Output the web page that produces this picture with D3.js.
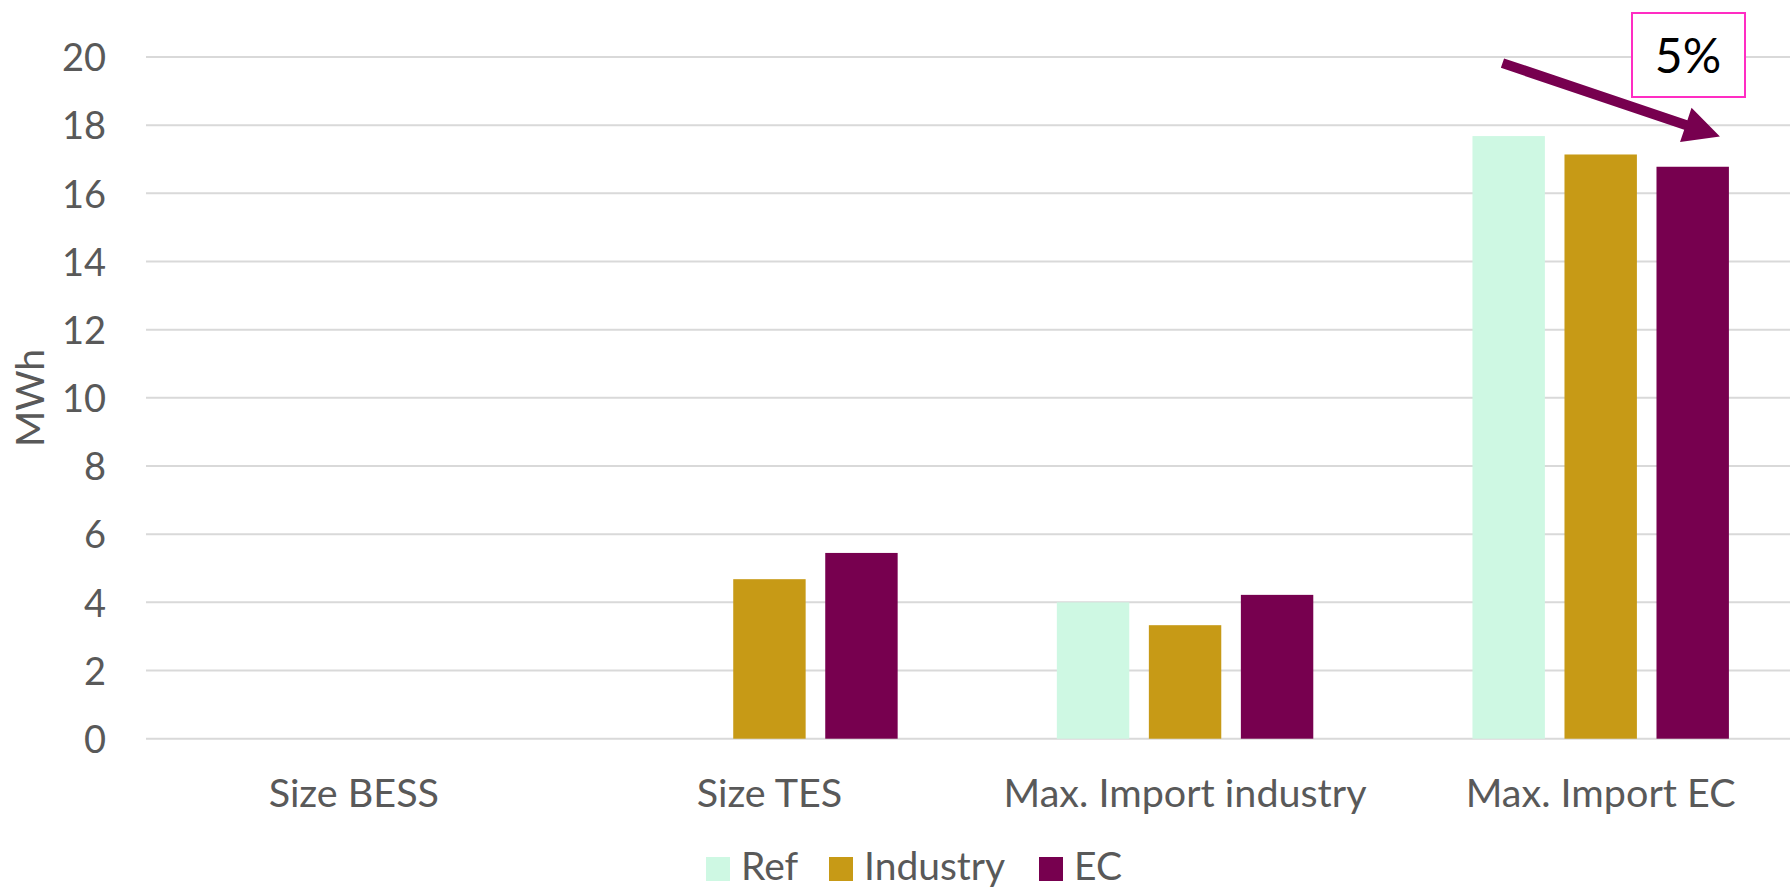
<!DOCTYPE html>
<html>
<head>
<meta charset="utf-8">
<script src="https://cdn.jsdelivr.net/npm/d3@7"></script>
<style>
  body { margin: 0; background: #fff; }
  svg text { font-family: Lato, "Open Sans", sans-serif; fill: #595959; }
</style>
</head>
<body>
<div id="viz"></div>
<script>
var categories = ['Size BESS', 'Size TES', 'Max. Import industry', 'Max. Import EC'];
var seriesNames = ['Ref', 'Industry', 'EC'];
var refValues = [0, 0, 4.0, 17.68];
var industryValues = [0, 4.68, 3.33, 17.14];
var ecValues = [0, 5.45, 4.22, 16.78];
var yTicks = [0, 2, 4, 6, 8, 10, 12, 14, 16, 18, 20];
var annotationText = '5%';

var colors = { 'Ref': '#CEF8E3', 'Industry': '#C79A16', 'EC': '#77004F' };

var width = 1790;
var height = 888;

var svg = d3.select('#viz')
    .append('svg')
    .attr('width', width)
    .attr('height', height);

var x0 = d3.scaleBand()
    .domain(categories)
    .range([146, 1808.5])
    .paddingInner(0.383)
    .paddingOuter(0.1915);

var x1 = d3.scaleBand()
    .domain(seriesNames)
    .range([0, x0.bandwidth()])
    .paddingInner(0.213);

var y = d3.scaleLinear()
    .domain([0, 20])
    .range([738.7, 57]);

// gridlines
svg.append('g')
    .selectAll('line')
    .data(yTicks)
    .enter().append('line')
    .attr('x1', 146)
    .attr('x2', width)
    .attr('y1', function (d) { return y(d); })
    .attr('y2', function (d) { return y(d); })
    .attr('stroke', '#D9D9D9')
    .attr('stroke-width', 2);

// y axis labels
var yAxis = svg.append('g')
    .attr('transform', 'translate(106,0)')
    .call(d3.axisLeft(y).tickValues(yTicks).tickSize(0).tickPadding(0));
yAxis.select('.domain').remove();
yAxis.selectAll('text')
    .attr('font-size', 38)
    .attr('font-family', 'Lato, sans-serif')
    .attr('fill', '#595959')
    .attr('dy', '0.36em');

svg.append('text')
    .attr('transform', 'translate(44,398) rotate(-90)')
    .attr('text-anchor', 'middle')
    .attr('font-size', 39)
    .text('MWh');

// bars
var rows = categories.map(function (c, i) {
    return { cat: c, values: [refValues[i], industryValues[i], ecValues[i]] };
});

var groups = svg.selectAll('g.group')
    .data(rows)
    .enter().append('g')
    .attr('class', 'group')
    .attr('transform', function (d) { return 'translate(' + x0(d.cat) + ',0)'; });

groups.selectAll('rect')
    .data(function (d) {
        return seriesNames.map(function (s, j) { return { name: s, value: d.values[j] }; });
    })
    .enter().append('rect')
    .filter(function (d) { return d.value > 0; })
    .attr('x', function (d) { return x1(d.name); })
    .attr('width', x1.bandwidth())
    .attr('y', function (d) { return y(d.value); })
    .attr('height', function (d) { return y(0) - y(d.value); })
    .attr('fill', function (d) { return colors[d.name]; });

// category labels
var xAxis = svg.append('g')
    .attr('transform', 'translate(0,' + y(0) + ')')
    .call(d3.axisBottom(x0).tickSize(0).tickPadding(0));
xAxis.select('.domain').remove();
xAxis.selectAll('text')
    .attr('font-size', 39.5)
    .attr('font-family', 'Lato, sans-serif')
    .attr('fill', '#595959')
    .attr('dy', null)
    .attr('y', 68);

// legend
var legendX = [706, 829, 1039];
var legend = svg.append('g');
seriesNames.forEach(function (s, i) {
    legend.append('rect')
        .attr('x', legendX[i])
        .attr('y', 857)
        .attr('width', 24)
        .attr('height', 24)
        .attr('fill', colors[s]);
    legend.append('text')
        .attr('x', legendX[i] + 35)
        .attr('y', 880)
        .attr('font-size', 39)
        .text(s);
});

// annotation arrow
var lastCat = categories[3];
var ax0 = x0(lastCat) + x1('Ref') + 30;
var ay0 = y(19.82);
var ax1 = x0(lastCat) + x1('EC') + x1.bandwidth() - 9;
var ay1 = y(17.67);
var ang = Math.atan2(ay1 - ay0, ax1 - ax0);
var headLen = 36, headHalf = 18, shaftHalf = 5;
var len = Math.hypot(ax1 - ax0, ay1 - ay0);
var arrow = svg.append('g')
    .attr('transform', 'translate(' + ax0 + ',' + ay0 + ') rotate(' + (ang * 180 / Math.PI) + ')');
arrow.append('path')
    .attr('d', 'M0,' + (-shaftHalf) + 'L' + (len - headLen) + ',' + (-shaftHalf) +
        'L' + (len - headLen) + ',' + (-headHalf) + 'L' + len + ',0' +
        'L' + (len - headLen) + ',' + headHalf + 'L' + (len - headLen) + ',' + shaftHalf +
        'L0,' + shaftHalf + 'Z')
    .attr('fill', '#77004F');

// annotation box
svg.append('rect')
    .attr('x', 1632)
    .attr('y', 13)
    .attr('width', 113)
    .attr('height', 84)
    .attr('fill', '#fff')
    .attr('stroke', '#FF2DC3')
    .attr('stroke-width', 2);
svg.append('text')
    .attr('x', 1688)
    .attr('y', 73)
    .attr('text-anchor', 'middle')
    .attr('font-size', 48)
    .style('fill', '#000')
    .text(annotationText);
</script>
</body>
</html>
